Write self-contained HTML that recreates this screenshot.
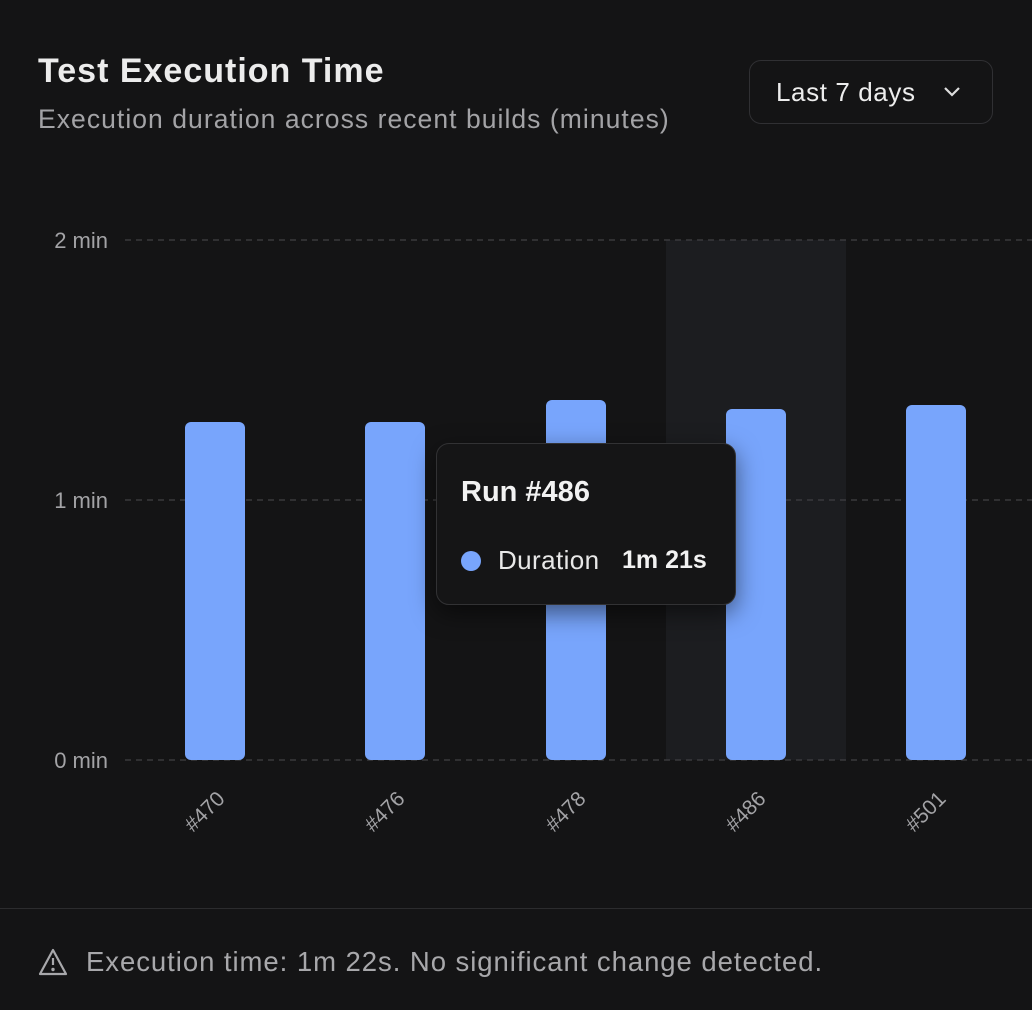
<!DOCTYPE html>
<html><head><meta charset="utf-8"><style>
body{margin:0;width:1032px;height:1010px;background:#141415;font-family:"Liberation Sans",sans-serif;overflow:hidden;position:relative}
.t{position:absolute;left:38px;top:52px;font-size:34px;font-weight:bold;color:#ececec;letter-spacing:1px;white-space:nowrap}
.s{position:absolute;left:38px;top:104px;font-size:26.5px;color:#a3a3a6;letter-spacing:1.05px;white-space:nowrap}
.dd{position:absolute;left:749px;top:60px;width:244px;height:64px;border:1.5px solid #303033;border-radius:12px;box-sizing:border-box;color:#ededed;font-size:26px;letter-spacing:0.6px;line-height:62px;padding-left:26px}
.foot{position:absolute;left:0;top:908px;width:1032px;border-top:1.5px solid #2c2c2e}
.ft{position:absolute;left:86px;top:946px;font-size:27.5px;color:#a8a8ab;letter-spacing:0.95px;white-space:nowrap}
.tip{position:absolute;left:436px;top:443px;width:300px;height:162px;box-sizing:border-box;background:#151516;border:1.5px solid #323234;border-radius:13px;box-shadow:0 8px 24px rgba(0,0,0,.5)}
</style></head><body>
<div class="t">Test Execution Time</div>
<div class="s">Execution duration across recent builds (minutes)</div>
<div class="dd">Last 7 days<svg style="position:absolute;left:193px;top:25px" width="18" height="12"><path d="M2 2 L9 9 L16 2" stroke="#ddd" stroke-width="2.2" fill="none"/></svg></div>
<svg width="1032" height="1010" style="position:absolute;left:0;top:0">
<rect x="666" y="240" width="180" height="520" fill="#1c1d20"/>
<g stroke="#3a3a3d" stroke-width="1.5" stroke-dasharray="6 5">
<line x1="125" y1="240" x2="1032" y2="240"/><line x1="125" y1="500" x2="1032" y2="500"/><line x1="125" y1="760" x2="1032" y2="760"/></g>
<g fill="#a3a3a6" font-size="22" text-anchor="end" font-family="Liberation Sans">
<text x="108" y="248">2 min</text><text x="108" y="508">1 min</text><text x="108" y="768">0 min</text></g>
<g fill="#78a5fc">
<rect x="185" y="422" width="60" height="338" rx="6"/>
<rect x="365" y="422" width="60" height="338" rx="6"/>
<rect x="546" y="400" width="60" height="360" rx="6"/>
<rect x="726" y="409" width="60" height="351" rx="6"/>
<rect x="906" y="405" width="60" height="355" rx="6"/></g>
<g fill="#a3a3a6" font-size="21" text-anchor="end" font-family="Liberation Sans">
<text transform="translate(226,800) rotate(-45)">#470</text>
<text transform="translate(406,800) rotate(-45)">#476</text>
<text transform="translate(587,800) rotate(-45)">#478</text>
<text transform="translate(767,800) rotate(-45)">#486</text>
<text transform="translate(947,800) rotate(-45)">#501</text></g>
<g transform="translate(38,948)" fill="none" stroke="#a8a8ab" stroke-width="2.2" stroke-linejoin="round">
<path d="M15 2 L28 26 L2 26 Z"/><line x1="15" y1="10" x2="15" y2="17"/><circle cx="15" cy="21.5" r="0.6" fill="#a8a8ab"/></g>
</svg>
<div class="tip">
<div style="position:absolute;left:24px;top:32px;font-size:29px;font-weight:bold;color:#f2f2f2">Run #486</div>
<div style="position:absolute;left:24px;top:107px;width:20px;height:20px;border-radius:50%;background:#78a5fc"></div>
<div style="position:absolute;left:61px;top:101px;font-size:26px;letter-spacing:0.4px;color:#e8e8e8">Duration</div>
<div style="position:absolute;left:185px;top:102px;font-size:25px;font-weight:bold;color:#f2f2f2">1m 21s</div>
</div>
<div class="foot"></div>
<div class="ft">Execution time: 1m 22s. No significant change detected.</div>
</body></html>
